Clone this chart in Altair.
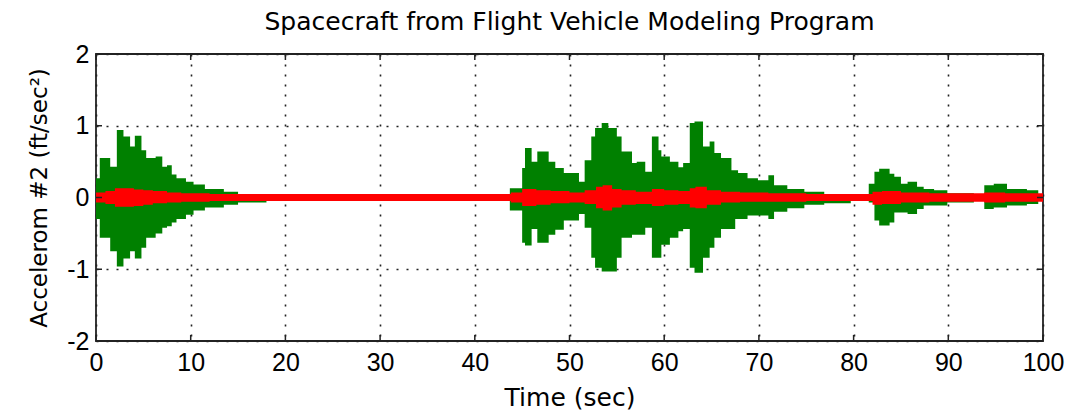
import altair as alt
import pandas as pd

# ---- data ----
# green envelope: time breakpoints (sec), upper and lower extent (ft/sec^2), drawn as steps
g_time = [0.0, 0.4, 1.5, 2.2, 2.9, 3.6, 4.1, 4.8, 5.3, 6.3, 7.0, 7.5, 8.0, 8.5, 9.5, 10.3,
          11.5, 13.5, 15.0, 18.0, 20.0, 43.7, 45.0, 45.3, 46.0, 46.6, 47.8, 48.5, 49.4, 51.0,
          51.6, 52.3, 52.7, 53.4, 54.1, 55.0, 55.5, 56.6, 57.1, 58.0, 58.7, 59.4, 59.7, 60.6,
          61.5, 62.0, 62.7, 63.2, 64.1, 64.8, 65.3, 66.0, 67.1, 67.5, 67.8, 68.8, 69.9, 71.0,
          71.6, 73.0, 74.8, 76.9, 79.7, 81.6, 82.2, 82.7, 83.8, 84.3, 85.0, 85.7, 86.7, 87.4,
          88.5, 89.9, 92.7, 93.8, 94.8, 96.2, 98.3, 99.5, 100.0]
g_upper = [0.27, 0.55, 0.43, 0.94, 0.85, 0.71, 0.86, 0.66, 0.55, 0.57, 0.43, 0.45, 0.32, 0.27, 0.22, 0.18,
           0.12, 0.08, 0.05, 0.03, 0.02, 0.13, 0.41, 0.69, 0.50, 0.64, 0.50, 0.41, 0.34, 0.22,
           0.52, 0.85, 0.97, 1.04, 0.97, 0.85, 0.64, 0.48, 0.50, 0.36, 0.85, 0.66, 0.57, 0.50,
           0.42, 0.48, 1.04, 1.06, 0.71, 0.78, 0.62, 0.55, 0.38, 0.38, 0.34, 0.27, 0.24, 0.31,
           0.17, 0.12, 0.08, 0.04, 0.02, 0.19, 0.36, 0.40, 0.33, 0.29, 0.19, 0.22, 0.15, 0.12,
           0.10, 0.06, 0.02, 0.17, 0.19, 0.12, 0.10, 0.02, 0.02]
g_lower = [-0.30, -0.56, -0.75, -0.96, -0.85, -0.75, -0.85, -0.70, -0.56, -0.50, -0.42, -0.40, -0.35, -0.30, -0.24, -0.18,
           -0.14, -0.10, -0.07, -0.04, -0.02, -0.18, -0.63, -0.67, -0.44, -0.63, -0.52, -0.45, -0.32, -0.23,
           -0.42, -0.84, -0.98, -1.03, -1.03, -0.84, -0.56, -0.52, -0.52, -0.42, -0.84, -0.84, -0.66, -0.56,
           -0.47, -0.44, -0.98, -1.05, -0.84, -0.70, -0.56, -0.44, -0.44, -0.30, -0.30, -0.25, -0.25, -0.30,
           -0.20, -0.15, -0.10, -0.08, -0.02, -0.07, -0.32, -0.39, -0.35, -0.21, -0.21, -0.23, -0.16, -0.11,
           -0.11, -0.07, -0.02, -0.16, -0.14, -0.11, -0.09, -0.02, -0.02]

# red envelope
r_time = [0.0, 1.0, 2.0, 4.0, 5.0, 6.0, 7.5, 9.0, 12.0, 43.8, 45.0, 46.5, 48.0, 50.0, 51.6,
          52.8, 53.5, 54.5, 55.5, 57.0, 58.7, 60.0, 61.5, 62.7, 63.3, 64.5, 66.0, 68.0, 71.0,
          75.0, 82.0, 83.0, 85.0, 88.0, 93.8, 96.0, 100.0]
r_upper = [0.07, 0.09, 0.13, 0.11, 0.10, 0.09, 0.07, 0.06, 0.05, 0.07, 0.12, 0.10, 0.09, 0.07, 0.10,
           0.15, 0.17, 0.12, 0.10, 0.08, 0.12, 0.10, 0.09, 0.13, 0.15, 0.10, 0.08, 0.07, 0.06,
           0.05, 0.08, 0.09, 0.07, 0.06, 0.07, 0.06, 0.06]
r_lower = [-0.07, -0.09, -0.13, -0.12, -0.10, -0.08, -0.07, -0.06, -0.05, -0.07, -0.12, -0.10, -0.08, -0.07, -0.09,
           -0.15, -0.18, -0.14, -0.10, -0.09, -0.12, -0.10, -0.09, -0.14, -0.15, -0.10, -0.07, -0.06, -0.06,
           -0.05, -0.10, -0.09, -0.07, -0.06, -0.07, -0.06, -0.06]

x_ticks = [0, 10, 20, 30, 40, 50, 60, 70, 80, 90, 100]
y_ticks = [-2, -1, 0, 1, 2]

W, H = 947, 287
FONT = "Liberation Sans"
TFONT = "DejaVu Sans"

green = pd.DataFrame({"t": g_time, "hi": g_upper, "lo": g_lower})
red = pd.DataFrame({"t": r_time, "hi": r_upper, "lo": r_lower})
xt = pd.DataFrame({"t": x_ticks})
yt = pd.DataFrame({"v": y_ticks})

xscale = alt.Scale(domain=[0, 100], nice=False, zero=False)
yscale = alt.Scale(domain=[-2, 2], nice=False, zero=False)

xaxis = alt.Axis(values=x_ticks, title="Time (sec)", grid=True, gridDash=[2, 8], gridColor="#222222",
                 gridWidth=1.6, ticks=False, domain=False, labelPadding=9, titlePadding=10,
                 labelFontSize=25, titleFontSize=25, labelFont=FONT, titleFont=TFONT,
                 titleFontWeight="normal", labelColor="black", titleColor="black", labelFlush=False,
                 labelExpr="'' + datum.value")
yaxis = alt.Axis(values=y_ticks, title="Accelerom #2 (ft/sec²)", grid=True, gridDash=[2, 8],
                 gridColor="#222222", gridWidth=1.6, ticks=False, domain=False, labelPadding=7,
                 titlePadding=15, labelFontSize=25, titleFontSize=23, labelFont=FONT, titleFont=TFONT,
                 titleFontWeight="normal", labelColor="black", titleColor="black", labelFlush=False,
                 labelExpr="'' + datum.value")

X = lambda f: alt.X(f, scale=xscale, axis=xaxis)
Y = lambda f: alt.Y(f, scale=yscale, axis=yaxis)

base_green = alt.Chart(green).mark_area(interpolate="step-after", color="#008000").encode(
    x=X("t:Q"), y=Y("hi:Q"), y2="lo:Q")
base_red = alt.Chart(red).mark_area(interpolate="step-after", color="#ff0000").encode(
    x=X("t:Q"), y=Y("hi:Q"), y2="lo:Q")

tick_style = dict(color="#222222", strokeWidth=1.5)
xt_bottom = alt.Chart(xt).mark_rule(**tick_style).encode(
    x=X("t:Q"), y=alt.value(H), y2=alt.value(H - 6))
xt_top = alt.Chart(xt).mark_rule(**tick_style).encode(
    x=X("t:Q"), y=alt.value(0), y2=alt.value(6))
yt_left = alt.Chart(yt).mark_rule(**tick_style).encode(
    y=Y("v:Q"), x=alt.value(0), x2=alt.value(6))
yt_right = alt.Chart(yt).mark_rule(**tick_style).encode(
    y=Y("v:Q"), x=alt.value(W), x2=alt.value(W - 6))

chart = alt.layer(base_green, base_red, xt_bottom, xt_top, yt_left, yt_right).properties(
    width=W, height=H,
    title=alt.TitleParams("Spacecraft from Flight Vehicle Modeling Program", font=TFONT, fontSize=25,
                          fontWeight="normal", color="black", anchor="middle", offset=7),
    autosize=alt.AutoSizeParams(type="none"),
    padding={"left": 96, "top": 54, "right": 30, "bottom": 75},
    background="white",
).configure_view(stroke="#222222", strokeWidth=1.8)

chart.save("out.html", embed_options={"renderer": "svg", "actions": False})
